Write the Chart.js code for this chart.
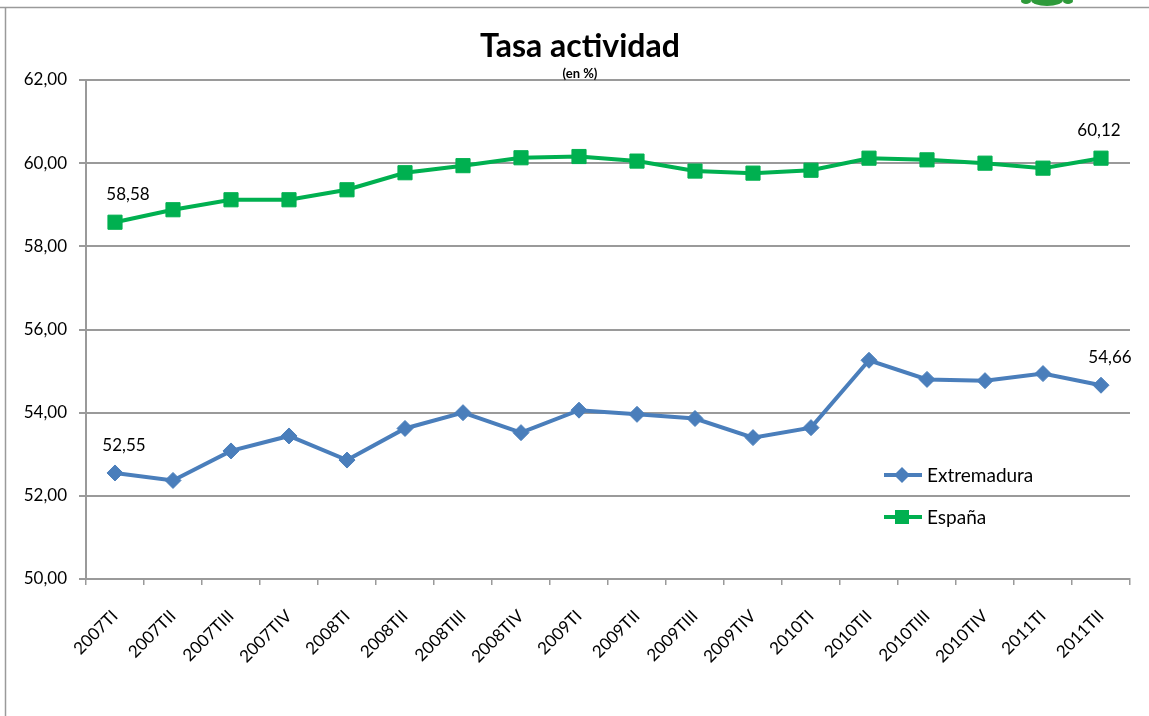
<!DOCTYPE html>
<html>
<head>
<meta charset="utf-8">
<script src="https://cdn.jsdelivr.net/npm/chart.js@4/dist/chart.umd.min.js"></script>
<style>
  html, body { margin: 0; padding: 0; background: #fff; }
  #wrap { position: relative; width: 1149px; height: 716px; }
</style>
</head>
<body>
<div id="wrap"><canvas id="c" width="1149" height="716"></canvas></div>
<script>
const categories = ["2007TI","2007TII","2007TIII","2007TIV","2008TI","2008TII","2008TIII","2008TIV",
  "2009TI","2009TII","2009TIII","2009TIV","2010TI","2010TII","2010TIII","2010TIV","2011TI","2011TII"];
const extremadura = [52.55,52.37,53.08,53.44,52.86,53.62,54.00,53.52,54.06,53.96,53.86,53.40,53.64,55.26,54.80,54.77,54.94,54.66];
const espana = [58.58,58.88,59.12,59.12,59.36,59.77,59.94,60.13,60.16,60.05,59.81,59.76,59.83,60.12,60.08,60.00,59.88,60.12];
const seriesNames = ["Extremadura","España"];
const titleText = "Tasa actividad";
const subtitleText = "(en %)";
const yMin = 50, yMax = 62, yStep = 2;
const labeledIndices = [0, 17];

const FONT = "Lato, 'Open Sans', sans-serif";
const fmt = v => v.toFixed(2).replace('.', ',');

const framePlugin = {
  id: 'frame',
  beforeDraw(chart) {
    const ctx = chart.ctx;
    ctx.save();
    ctx.strokeStyle = '#9a9a9a';
    ctx.lineWidth = 1.5;
    ctx.beginPath();
    ctx.moveTo(0, 7.5); ctx.lineTo(1149, 7.5);
    ctx.moveTo(5.5, 7.5); ctx.lineTo(5.5, 716);
    ctx.stroke();
    ctx.fillStyle = '#2e9a3a';
    ctx.beginPath();
    ctx.ellipse(1047, 0, 16, 6, 0, 0, Math.PI);
    ctx.fill();
    ctx.beginPath();
    ctx.ellipse(1026, 1, 5, 3, 0, 0, Math.PI*2);
    ctx.ellipse(1068, 1, 5, 3, 0, 0, Math.PI*2);
    ctx.fill();
    ctx.restore();
  }
};

const textPlugin = {
  id: 'texts',
  afterDraw(chart) {
    const ctx = chart.ctx;
    ctx.save();
    ctx.fillStyle = '#000';
    ctx.textAlign = 'center';
    ctx.textBaseline = 'alphabetic';
    ctx.font = "bold 32px " + FONT;
    ctx.fillText(titleText, 580, 57);
    ctx.font = "bold 13px " + FONT;
    ctx.fillText(subtitleText, 580, 78);

    ctx.font = "17px " + FONT;
    chart.data.datasets.forEach((ds, di) => {
      const meta = chart.getDatasetMeta(di);
      labeledIndices.forEach(i => {
        const p = meta.data[i];
        ctx.textAlign = 'center';
        let dx = 0;
        if (i === 0) dx = di === 0 ? 9 : 13;
        else dx = di === 0 ? 9 : -2;
        ctx.fillText(fmt(ds.data[i]), p.x + dx, p.y - 22);
      });
    });

    ctx.font = "19px " + FONT;
    ctx.textAlign = 'left';
    ctx.textBaseline = 'middle';
    const rows = [475, 517];
    chart.data.datasets.forEach((ds, di) => {
      const y = rows[di];
      ctx.strokeStyle = ds.borderColor;
      ctx.lineWidth = 4;
      ctx.beginPath();
      ctx.moveTo(884, y); ctx.lineTo(922, y);
      ctx.stroke();
      ctx.fillStyle = ds.borderColor;
      ctx.beginPath();
      if (ds.pointStyle === 'rect') {
        ctx.rect(902 - 7, y - 7, 14, 14);
      } else {
        ctx.moveTo(902 - 8, y); ctx.lineTo(902, y - 8); ctx.lineTo(902 + 8, y); ctx.lineTo(902, y + 8); ctx.closePath();
      }
      ctx.fill();
      ctx.fillStyle = '#000';
      ctx.fillText(ds.label, 927, y + 1);
    });
    ctx.restore();
  }
};

new Chart(document.getElementById('c'), {
  type: 'line',
  data: {
    labels: categories,
    datasets: [
      {
        label: seriesNames[0],
        data: extremadura,
        borderColor: '#4a7ebb',
        backgroundColor: '#4a7ebb',
        borderWidth: 4,
        pointStyle: 'rectRot',
        pointRadius: 8,
        pointBorderWidth: 1,
        pointBackgroundColor: '#4a7ebb',
        pointBorderColor: '#4a7ebb',
        tension: 0
      },
      {
        label: seriesNames[1],
        data: espana,
        borderColor: '#00b050',
        backgroundColor: '#00b050',
        borderWidth: 4,
        pointStyle: 'rect',
        pointRadius: 10,
        pointBorderWidth: 1,
        pointBackgroundColor: '#00b050',
        pointBorderColor: '#00b050',
        tension: 0
      }
    ]
  },
  options: {
    responsive: false,
    animation: false,
    devicePixelRatio: 1,
    layout: { padding: { left: 6, right: 19, top: 80, bottom: 37 } },
    plugins: {
      legend: { display: false },
      title: { display: false },
      tooltip: { enabled: false }
    },
    scales: {
      x: {
        type: 'category',
        offset: true,
        afterFit: s => { s.height = 100; },
        grid: {
          offset: true,
          drawOnChartArea: false,
          drawTicks: true,
          tickLength: 6,
          color: '#9a9a9a',
          lineWidth: 1.5
        },
        border: { display: true, color: '#9a9a9a', width: 2 },
        ticks: {
          autoSkip: false,
          maxRotation: 45,
          minRotation: 45,
          padding: 21,
          color: '#000',
          font: { family: FONT, size: 17 }
        }
      },
      y: {
        min: yMin,
        max: yMax,
        afterFit: s => { s.width = 80; },
        afterBuildTicks: s => {
          const t = [];
          for (let v = yMin; v <= yMax + 1e-9; v += yStep) t.push({ value: v });
          s.ticks = t;
        },
        grid: {
          drawOnChartArea: true,
          drawTicks: true,
          tickLength: 7,
          color: '#9a9a9a',
          lineWidth: 2
        },
        border: { display: true, color: '#9a9a9a', width: 2 },
        ticks: {
          padding: 12,
          color: '#000',
          font: { family: FONT, size: 17 },
          callback: v => fmt(v)
        }
      }
    }
  },
  plugins: [framePlugin, textPlugin]
});
</script>
</body>
</html>
